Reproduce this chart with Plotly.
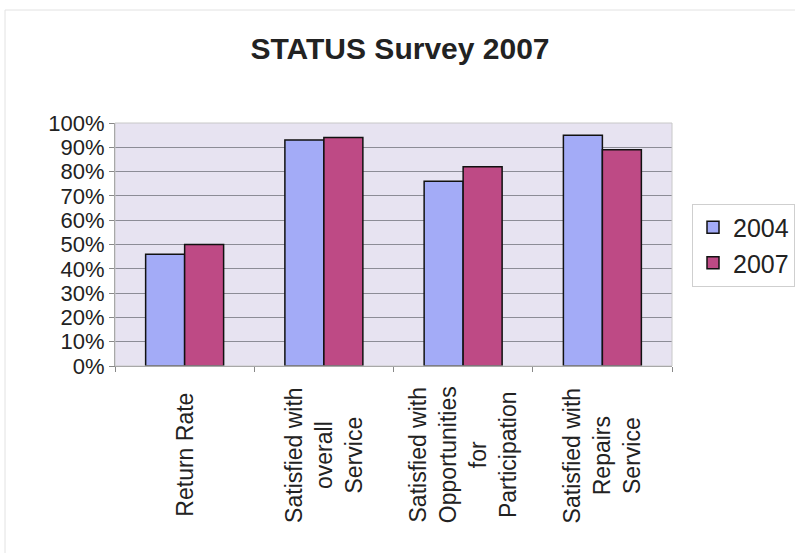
import plotly.graph_objects as go

categories = ["Return Rate", "Satisfied with overall Service",
              "Satisfied with Opportunities for Participation",
              "Satisfied with Repairs Service"]
label_lines = ["Return Rate", "Satisfied with<br>overall<br>Service",
               "Satisfied with<br>Opportunities<br>for<br>Participation",
               "Satisfied with<br>Repairs<br>Service"]
series_names = ["2004", "2007"]
values_2004 = [46, 93, 76, 95]
values_2007 = [50, 94, 82, 89]
y_ticks = list(range(0, 101, 10))

FONT = "Liberation Sans, Arial, sans-serif"
W, H = 795, 553
L, R, T, B = 115, 123, 123, 187
pw, ph = W - L - R, H - T - B

fig = go.Figure()
fig.add_trace(go.Bar(name=series_names[0], x=categories, y=values_2004,
                     marker=dict(color="#A3ABF7", line=dict(color="#111111", width=1.5))))
fig.add_trace(go.Bar(name=series_names[1], x=categories, y=values_2007,
                     marker=dict(color="#BE4A85", line=dict(color="#111111", width=1.5))))

for cat, txt in zip(categories, label_lines):
    fig.add_annotation(x=cat, xref="x", y=(366 - 455) / ph, yref="paper",
                       text=txt, textangle=-90, showarrow=False, align="center",
                       xanchor="center", yanchor="middle",
                       font=dict(family=FONT, size=23, color="#222222"))

# faint outer chart border
fig.add_shape(type="rect", xref="paper", yref="paper",
              x0=(5 - L) / pw, x1=(800 - L) / pw, y0=(T + ph - 560) / ph, y1=(T + ph - 10) / ph,
              line=dict(color="#E2E2E2", width=1), layer="below")

fig.update_layout(
    width=W, height=H,
    margin=dict(l=L, r=R, t=T, b=B),
    paper_bgcolor="white", plot_bgcolor="#E7E3F1",
    barmode="group", bargap=0.44, bargroupgap=0,
    title=dict(text="<b>STATUS Survey 2007</b>", x=400 / W, xanchor="center",
               y=1 - 48 / H, yanchor="middle", yref="container",
               font=dict(family=FONT, size=30, color="#222222")),
    legend=dict(xref="container", x=692 / W, xanchor="left",
                yref="container", y=1 - 245 / H, yanchor="middle",
                bgcolor="white", bordercolor="#CFCFCF", borderwidth=1,
                font=dict(family=FONT, size=25, color="#222222"),
                itemwidth=30, tracegroupgap=4),
    showlegend=True,
)
fig.update_xaxes(showticklabels=False, ticks="outside", tickson="boundaries",
                 ticklen=5, tickcolor="#888888", showline=True, linecolor="#888888",
                 mirror=False, showgrid=False)
fig.update_yaxes(range=[0, 100], tickvals=y_ticks, ticktext=[f"{v}%" for v in y_ticks],
                 ticks="outside", ticklen=5, tickcolor="#888888",
                 showline=True, linecolor="#888888", gridcolor="#8C8C96", gridwidth=1,
                 tickfont=dict(family=FONT, size=22, color="#222222"), zeroline=False)
# light frame on top/right of plot area
fig.add_shape(type="rect", xref="paper", yref="paper", x0=0, x1=1, y0=0, y1=1,
              line=dict(color="#C8C8C8", width=1))

fig.write_html("out.html")
